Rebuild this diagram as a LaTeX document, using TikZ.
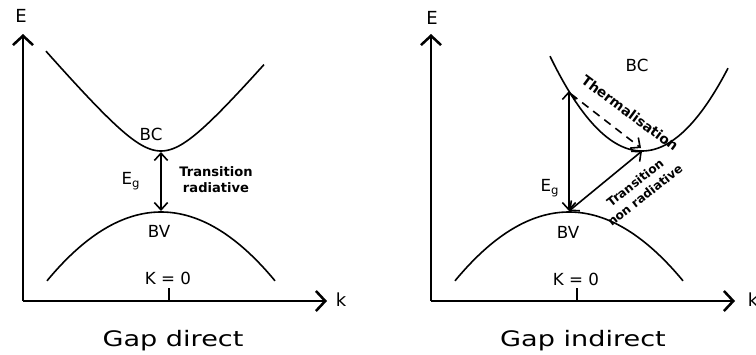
\documentclass[tikz,border=0pt]{standalone}
\usepackage{fontspec}
\setmainfont{DejaVu Sans}
\usetikzlibrary{arrows.meta}

\begin{document}
\begin{tikzpicture}[x=0.75pt,y=-0.75pt,line width=1.2pt,>={Straight Barb[length=5.5pt,width=10pt]}]
\tikzset{
  axe/.style={line width=1.9pt,-{Straight Barb[length=7pt,width=15pt]}},
  bande/.style={line width=1.2pt,line join=round},
  trans/.style={line width=1.2pt,<->},
  lbl/.style={inner sep=0pt,font=\fontsize{12.5}{14}\selectfont},
  axlbl/.style={inner sep=0pt,font=\fontsize{13.5}{16}\selectfont},
  petit/.style={inner sep=0pt,align=center,font=\fontsize{9.8}{12}\selectfont\bfseries},
  titre/.style={inner sep=0pt,anchor=base,xscale=1.27,font=\fontsize{16}{19}\selectfont}
}
\useasboundingbox (0,0) rectangle (756,354);
% ---------- left: direct gap, vertical transition ----------
\begin{scope}
  \coordinate (orig1) at (23,301);
  \coordinate (etop1) at (23,34);
  \coordinate (kend1) at (327,301);
  \coordinate (kzero1) at (169,301);
  \draw[axe] (orig1) -- (etop1);
  \draw[axe] (orig1) -- (kend1);
  \draw[line width=1.9pt] (kzero1) -- ++(0,-13);
  \node[axlbl] (E1) at (21,16) {E};
  \node[axlbl] (k1) at (341,300) {k};
  \draw[bande] plot[domain=46:264,samples=80] (\x,{151-41*(sqrt(1+((\x-161)/35)^2)-1)});
  \draw[bande] plot[domain=47:275,samples=80] (\x,{212+0.0053*(\x-161)^2});
  \coordinate (bcmin1) at (161,152);
  \coordinate (bvmax1) at (161,211);
  \draw[trans] (bcmin1) -- (bvmax1);
  \node[lbl] (BC1) at (151,134) {BC};
  \node[lbl] (BV1) at (159,231) {BV};
  \node[lbl] (K1) at (168,278) {K = 0};
  \node[lbl] (Eg1) at (131,181) {E\textsubscript{g}};
  \node[petit] (rad1) at (216,180) {Transition\\radiative};
  \node[titre] (gap1) at (173,346) {Gap direct};
\end{scope}
% ---------- right: indirect gap, thermalisation ----------
\begin{scope}[shift={(408,0)}]
  \coordinate (orig2) at (23,301);
  \coordinate (etop2) at (23,34);
  \coordinate (kend2) at (327,301);
  \coordinate (kzero2) at (169,301);
  \draw[axe] (orig2) -- (etop2);
  \draw[axe] (orig2) -- (kend2);
  \draw[line width=1.9pt] (kzero2) -- ++(0,-13);
  \node[axlbl] (E2) at (24,18) {E};
  \node[axlbl] (k2) at (345,300) {k};
  \draw[bande] plot[domain=142:320,samples=80] (\x,{151-0.0112*(\x-234)^2});
  \draw[bande] plot[domain=47:275,samples=80] (\x,{212+0.0053*(\x-161)^2});
  \coordinate (bchaut2) at (161,91);
  \coordinate (bcmin2) at (234,151);
  \coordinate (bvmax2) at (161,211);
  \draw[trans] (bchaut2) -- (bvmax2);
  \draw[trans] (bvmax2) -- (bcmin2);
  \draw[line width=1.2pt,->,dash pattern=on 6pt off 4.5pt] (163,94) -- (233,148);
  \node[lbl] (BC2) at (229,65) {BC};
  \node[lbl] (BV2) at (160,232) {BV};
  \node[lbl] (K2) at (168,279) {K = 0};
  \node[lbl] (Eg2) at (142,188) {E\textsubscript{g}};
  \node[petit,font=\fontsize{10.3}{12}\selectfont\bfseries,rotate=-36.5] (therm2) at (222,113) {Thermalisation};
  \node[petit,font=\fontsize{9.1}{12}\selectfont\bfseries,rotate=38] (nonrad2) at (232,189) {Transition\\non radiative};
  \node[titre] (gap2) at (175,346) {Gap indirect};
\end{scope}
\end{tikzpicture}
\end{document}
